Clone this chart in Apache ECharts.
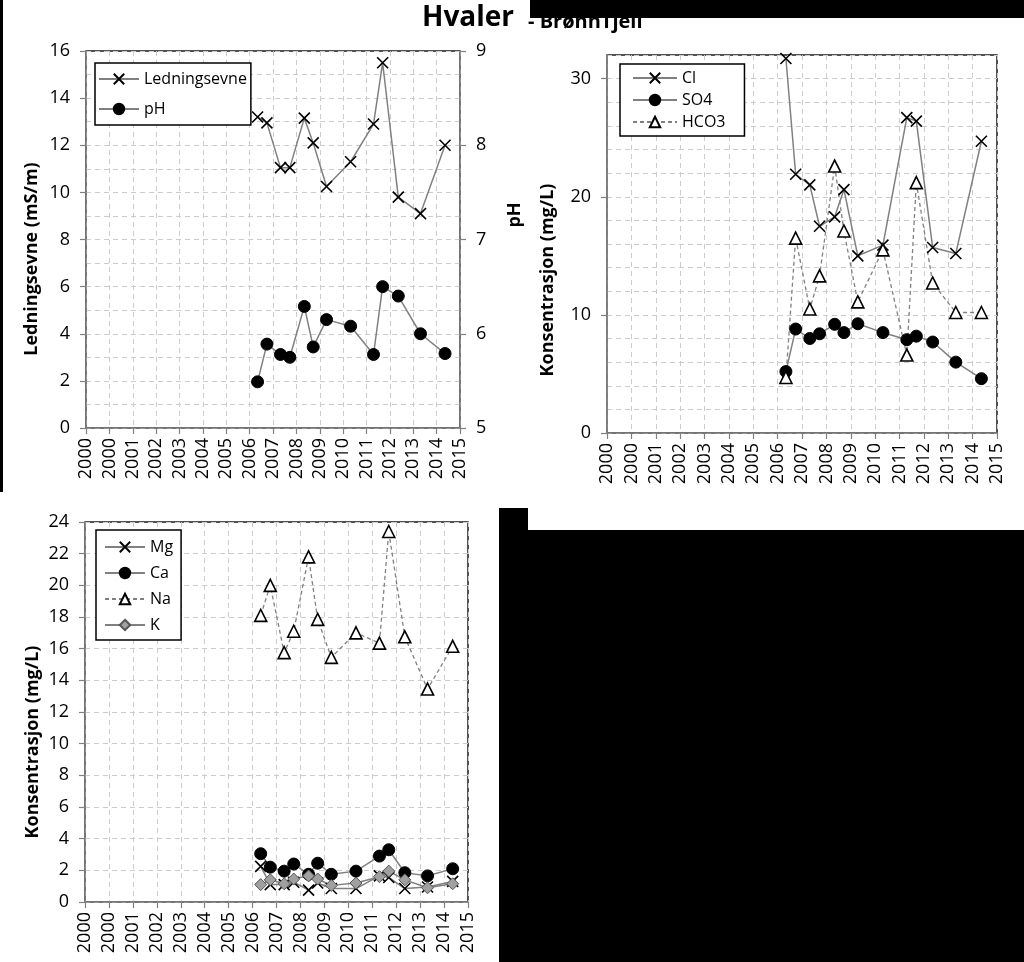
<!DOCTYPE html>
<html>
<head>
<meta charset="utf-8">
<script src="https://cdn.jsdelivr.net/npm/echarts@6/dist/echarts.min.js"></script>
<style>
html,body{margin:0;padding:0;background:#fff;}
#chart{width:1024px;height:962px;}
</style>
</head>
<body>
<div id="chart"></div>
<script>
// ---- data ----
const tickLabels = ['2000','2000','2001','2002','2003','2004','2005','2006','2007','2008','2009','2010','2011','2012','2013','2014','2015'];
// sample positions on the date axis (axis units, tick i = 2000 + i)
const sampleYears = [2007.34, 2007.74, 2008.32, 2008.72, 2009.34, 2009.72, 2010.29, 2011.32, 2012.30, 2012.69, 2013.36, 2014.31, 2015.36];
const ledningsevne = [13.2, 12.95, 11.05, 11.05, 13.15, 12.1, 10.25, 11.3, 12.9, 15.5, 9.8, 9.1, 12.0];
const pH = [5.49, 5.89, 5.78, 5.75, 6.29, 5.86, 6.15, 6.08, 5.78, 6.5, 6.4, 6.0, 5.79];
const cl = [31.7, 21.9, 21.0, 17.5, 18.3, 20.6, 15.0, 15.9, 26.7, 26.4, 15.7, 15.2, 24.7];
const so4 = [5.2, 8.8, 8.0, 8.4, 9.2, 8.5, 9.25, 8.5, 7.9, 8.2, 7.7, 6.0, 4.6];
const hco3 = [4.7, 16.5, 10.5, 13.3, 22.6, 17.1, 11.1, 15.5, 6.6, 21.2, 12.7, 10.2, 10.2];
const mg = [2.25, 1.1, 1.1, 1.25, 0.75, 1.2, 0.85, 0.85, 1.65, 1.55, 0.85, 0.95, 1.3];
const ca = [3.05, 2.2, 1.95, 2.4, 1.75, 2.45, 1.75, 1.95, 2.9, 3.3, 1.85, 1.65, 2.1];
const na = [18.1, 20.0, 15.75, 17.1, 21.8, 17.85, 15.45, 17.0, 16.35, 23.4, 16.75, 13.45, 16.15];
const k = [1.1, 1.4, 1.15, 1.45, 1.65, 1.45, 1.05, 1.2, 1.6, 1.95, 1.4, 0.9, 1.15];

const pairs = vals => sampleYears.map((x, i) => [x, vals[i]]);

const FONT = '"Open Sans", sans-serif';
const GRID_LINE = {show: true, lineStyle: {color: '#cccccc', width: 1, type: [5, 4]}};
const AXIS_LINE = {show: true, lineStyle: {color: '#808080', width: 1.5}};
const AXIS_TICK = {show: true, length: 6, lineStyle: {color: '#808080', width: 1.2}};
const LINE_GRAY = '#808080';
const X_SYMBOL = 'path://M0,0L10,10M10,0L0,10';

function xAxisFor(i) {
  return {
    type: 'value', gridIndex: i, min: 2000, max: 2016, interval: 1,
    axisLine: AXIS_LINE, axisTick: AXIS_TICK,
    axisLabel: {rotate: 90, margin: 10, fontSize: 18, color: '#000', fontFamily: FONT,
      formatter: v => tickLabels[Math.round(v - 2000)]},
    splitLine: GRID_LINE
  };
}

function xSeries(name, x, y, vals) {
  return {name, type: 'line', xAxisIndex: x, yAxisIndex: y, data: pairs(vals),
    symbol: X_SYMBOL, symbolSize: 11, symbolKeepAspect: true,
    itemStyle: {color: 'rgba(255,255,255,0)', borderColor: '#000', borderWidth: 1.6},
    lineStyle: {color: LINE_GRAY, width: 1.5}, z: 3};
}
function dotSeries(name, x, y, vals) {
  return {name, type: 'line', xAxisIndex: x, yAxisIndex: y, data: pairs(vals),
    symbol: 'circle', symbolSize: 12,
    itemStyle: {color: '#000', borderColor: '#000', borderWidth: 1},
    lineStyle: {color: LINE_GRAY, width: 1.5}, z: 3};
}
function triSeries(name, x, y, vals) {
  return {name, type: 'line', xAxisIndex: x, yAxisIndex: y, data: pairs(vals),
    symbol: 'triangle', symbolSize: 12,
    itemStyle: {color: '#fff', borderColor: '#000', borderWidth: 1.6},
    lineStyle: {color: LINE_GRAY, width: 1.3, type: [4, 3]}, z: 3};
}
function diaSeries(name, x, y, vals) {
  return {name, type: 'line', xAxisIndex: x, yAxisIndex: y, data: pairs(vals),
    symbol: 'diamond', symbolSize: 12,
    itemStyle: {color: '#a0a0a0', borderColor: '#555', borderWidth: 1},
    lineStyle: {color: LINE_GRAY, width: 1.5}, z: 3};
}

const legendBase = {
  orient: 'vertical', backgroundColor: '#fff', borderColor: '#000', borderWidth: 1.5,
  borderRadius: 0, itemWidth: 40, itemHeight: 13,
  textStyle: {fontSize: 16, color: '#000', fontFamily: FONT}
};

function axisTitle(text, x, y) {
  return {type: 'text', x, y, rotation: Math.PI / 2, z: 50,
    style: {text, fill: '#000', font: 'bold 18px "Open Sans", sans-serif', align: 'center', verticalAlign: 'middle'}};
}

const chart = echarts.init(document.getElementById('chart'), null, {renderer: 'canvas'});
chart.setOption({
  animation: false,
  backgroundColor: '#fff',
  textStyle: {fontFamily: FONT, color: '#000'},
  grid: [
    {left: 86, top: 51, width: 374, height: 377, show: true, borderColor: '#1a1a1a', borderWidth: 1.5},
    {left: 607, top: 55, width: 390, height: 378, show: true, borderColor: '#1a1a1a', borderWidth: 1.5},
    {left: 85, top: 522, width: 383, height: 380, show: true, borderColor: '#1a1a1a', borderWidth: 1.5}
  ],
  xAxis: [xAxisFor(0), xAxisFor(1), xAxisFor(2)],
  yAxis: [
    {type: 'value', gridIndex: 0, position: 'left', min: 0, max: 16, interval: 2,
      axisLine: AXIS_LINE, axisTick: AXIS_TICK,
      axisLabel: {fontSize: 18, margin: 16, color: '#000', fontFamily: FONT},
      splitLine: GRID_LINE, minorTick: {show: false, splitNumber: 2},
      minorSplitLine: {show: true, lineStyle: {color: '#cccccc', width: 1, type: [5, 4]}}},
    {type: 'value', gridIndex: 0, position: 'right', min: 5, max: 9, interval: 1,
      axisLine: AXIS_LINE, axisTick: AXIS_TICK,
      axisLabel: {fontSize: 18, margin: 16, color: '#000', fontFamily: FONT},
      splitLine: {show: false}},
    {type: 'value', gridIndex: 1, position: 'left', min: 0, max: 32, interval: 2,
      axisLine: AXIS_LINE, axisTick: {show: false}, axisLabel: {show: false},
      splitLine: GRID_LINE},
    {type: 'value', gridIndex: 1, position: 'left', min: 0, max: 32, interval: 10,
      axisLine: AXIS_LINE, axisTick: AXIS_TICK,
      axisLabel: {fontSize: 18, margin: 16, color: '#000', fontFamily: FONT, showMaxLabel: false,
        formatter: v => (v % 10 === 0 ? String(v) : '')},
      splitLine: {show: false}},
    {type: 'value', gridIndex: 2, position: 'left', min: 0, max: 24, interval: 2,
      axisLine: AXIS_LINE, axisTick: AXIS_TICK,
      axisLabel: {fontSize: 18, margin: 16, color: '#000', fontFamily: FONT},
      splitLine: GRID_LINE}
  ],
  legend: [
    Object.assign({}, legendBase, {data: ['Ledningsevne', 'pH'], left: 95, top: 63,
      padding: [8, 4, 8, 3], itemGap: 14}),
    Object.assign({}, legendBase, {data: ['Cl', 'SO4', 'HCO3'], left: 620, top: 64,
      padding: [6, 19, 6, 12], itemWidth: 44, itemGap: 6}),
    Object.assign({}, legendBase, {data: ['Mg', 'Ca', 'Na', 'K'], left: 96, top: 530,
      padding: [9, 8, 7, 8], itemGap: 10})
  ],
  series: [
    xSeries('Ledningsevne', 0, 0, ledningsevne),
    dotSeries('pH', 0, 1, pH),
    xSeries('Cl', 1, 2, cl),
    dotSeries('SO4', 1, 2, so4),
    triSeries('HCO3', 1, 2, hco3),
    xSeries('Mg', 2, 4, mg),
    dotSeries('Ca', 2, 4, ca),
    triSeries('Na', 2, 4, na),
    diaSeries('K', 2, 4, k)
  ],
  graphic: [
    {type: 'text', left: 422, top: 4, z: 40,
      style: {text: 'Hvaler', fill: '#000', font: 'bold 28px "Open Sans", sans-serif'}},
    {type: 'text', left: 528, top: 12, z: 40,
      style: {text: '- BrønnTjell', fill: '#000', font: 'bold 20px "Open Sans", sans-serif'}},
    axisTitle('Ledningsevne (mS/m)', 32, 259),
    axisTitle('pH', 515, 215),
    axisTitle('Konsentrasjon (mg/L)', 548, 280),
    axisTitle('Konsentrasjon (mg/L)', 33, 742),
    {type: 'rect', z: 60, shape: {x: 0, y: 0, width: 3, height: 492}, style: {fill: '#000'}},
    {type: 'rect', z: 60, shape: {x: 530, y: 0, width: 494, height: 18}, style: {fill: '#000'}},
    {type: 'rect', z: 60, shape: {x: 499, y: 508, width: 29, height: 30}, style: {fill: '#000'}},
    {type: 'rect', z: 60, shape: {x: 499, y: 530, width: 525, height: 432}, style: {fill: '#000'}}
  ]
});
</script>
</body>
</html>
